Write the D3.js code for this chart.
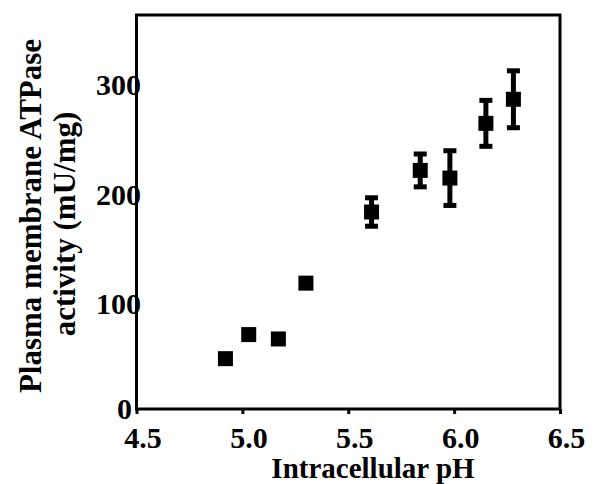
<html>
<head>
    <title>Plasma membrane ATPase vs intracellular pH</title>
    <style>
        body { margin: 0; background: #fff; }
        text { font-family: "Liberation Serif", "Times New Roman", serif; font-weight: bold; fill: #000; }
    </style>
</head>
<body>
    <div id="chart"></div>

    <script src="https://d3js.org/d3.v7.min.js"></script>
    <script>
        // values
        var phValues = [4.92, 5.03, 5.17, 5.30, 5.61, 5.84, 5.98, 6.15, 6.28];
        var activity = [46, 68, 64, 115, 180, 218, 211, 261, 283];
        var errors = [0, 0, 0, 0, 13, 15, 25, 21, 26];
        var xTicks = [4.5, 5.0, 5.5, 6.0, 6.5];
        var yTicks = [0, 100, 200, 300];

        var data = phValues.map(function (p, i) {
            return { ph: p, act: activity[i], err: errors[i] };
        });

        var svg = d3.select('#chart')
            .append('svg')
            .attr('width', 601)
            .attr('height', 484);

        var x = d3.scaleLinear().domain([4.5, 6.5]).range([136.5, 560]);
        var y = d3.scaleLinear().domain([0, 360]).range([409, 15]);

        // y labels first so the frame sits on top of them
        var yAxis = svg.append('g')
            .attr('transform', 'translate(136.5,0)')
            .call(d3.axisLeft(y).tickValues(yTicks).tickSize(0).tickPadding(-4.5));
        yAxis.select('.domain').remove();
        yAxis.selectAll('text')
            .attr('dy', function (d) { return d === 0 ? 9 : 14; })
            .attr('dx', function (d) { return d === 0 ? -9 : 0; })
            .style('font-size', '30px');

        var xAxis = svg.append('g')
            .attr('transform', 'translate(0,409)')
            .call(d3.axisBottom(x).tickValues(xTicks).tickSize(5).tickPadding(13)
                .tickFormat(d3.format('.1f')));
        xAxis.select('.domain').remove();
        xAxis.selectAll('line').attr('stroke', '#000').attr('stroke-width', 3);
        xAxis.selectAll('text')
            .attr('dx', 6)
            .style('font-size', '30px');

        // plot frame
        svg.append('rect')
            .attr('x', x(4.5))
            .attr('y', y(360))
            .attr('width', x(6.5) - x(4.5))
            .attr('height', y(0) - y(360))
            .attr('fill', 'none')
            .attr('stroke', '#000')
            .attr('stroke-width', 3);

        // error bars
        var withErr = data.filter(function (d) { return d.err > 0; });
        svg.selectAll('.whisker')
            .data(withErr)
            .enter()
            .append('line')
            .attr('class', 'whisker')
            .attr('x1', function (d) { return x(d.ph); })
            .attr('x2', function (d) { return x(d.ph); })
            .attr('y1', function (d) { return y(d.act - d.err); })
            .attr('y2', function (d) { return y(d.act + d.err); })
            .attr('stroke', '#000')
            .attr('stroke-width', 5);

        var caps = [];
        withErr.forEach(function (d) {
            caps.push({ ph: d.ph, v: d.act + d.err });
            caps.push({ ph: d.ph, v: d.act - d.err });
        });
        svg.selectAll('.cap')
            .data(caps)
            .enter()
            .append('rect')
            .attr('class', 'cap')
            .attr('x', function (d) { return x(d.ph) - 6.5; })
            .attr('y', function (d) { return y(d.v) - 2.5; })
            .attr('width', 13)
            .attr('height', 5)
            .attr('fill', '#000');

        // square markers
        svg.selectAll('.pt')
            .data(data)
            .enter()
            .append('rect')
            .attr('class', 'pt')
            .attr('x', function (d) { return x(d.ph) - 7.5; })
            .attr('y', function (d) { return y(d.act) - 7.5; })
            .attr('width', 15)
            .attr('height', 15)
            .attr('fill', '#000');

        // axis titles
        svg.append('text')
            .attr('x', 373)
            .attr('y', 478)
            .attr('text-anchor', 'middle')
            .style('font-size', '29px')
            .text('Intracellular pH');

        var yTitle = svg.append('g').attr('transform', 'rotate(-90)');
        yTitle.append('text')
            .attr('x', -216)
            .attr('y', 41)
            .attr('text-anchor', 'middle')
            .style('font-size', '31px')
            .text('Plasma membrane ATPase');
        yTitle.append('text')
            .attr('x', -224)
            .attr('y', 75)
            .attr('text-anchor', 'middle')
            .style('font-size', '31px')
            .text('activity (mU/mg)');
    </script>
</body>
</html>
